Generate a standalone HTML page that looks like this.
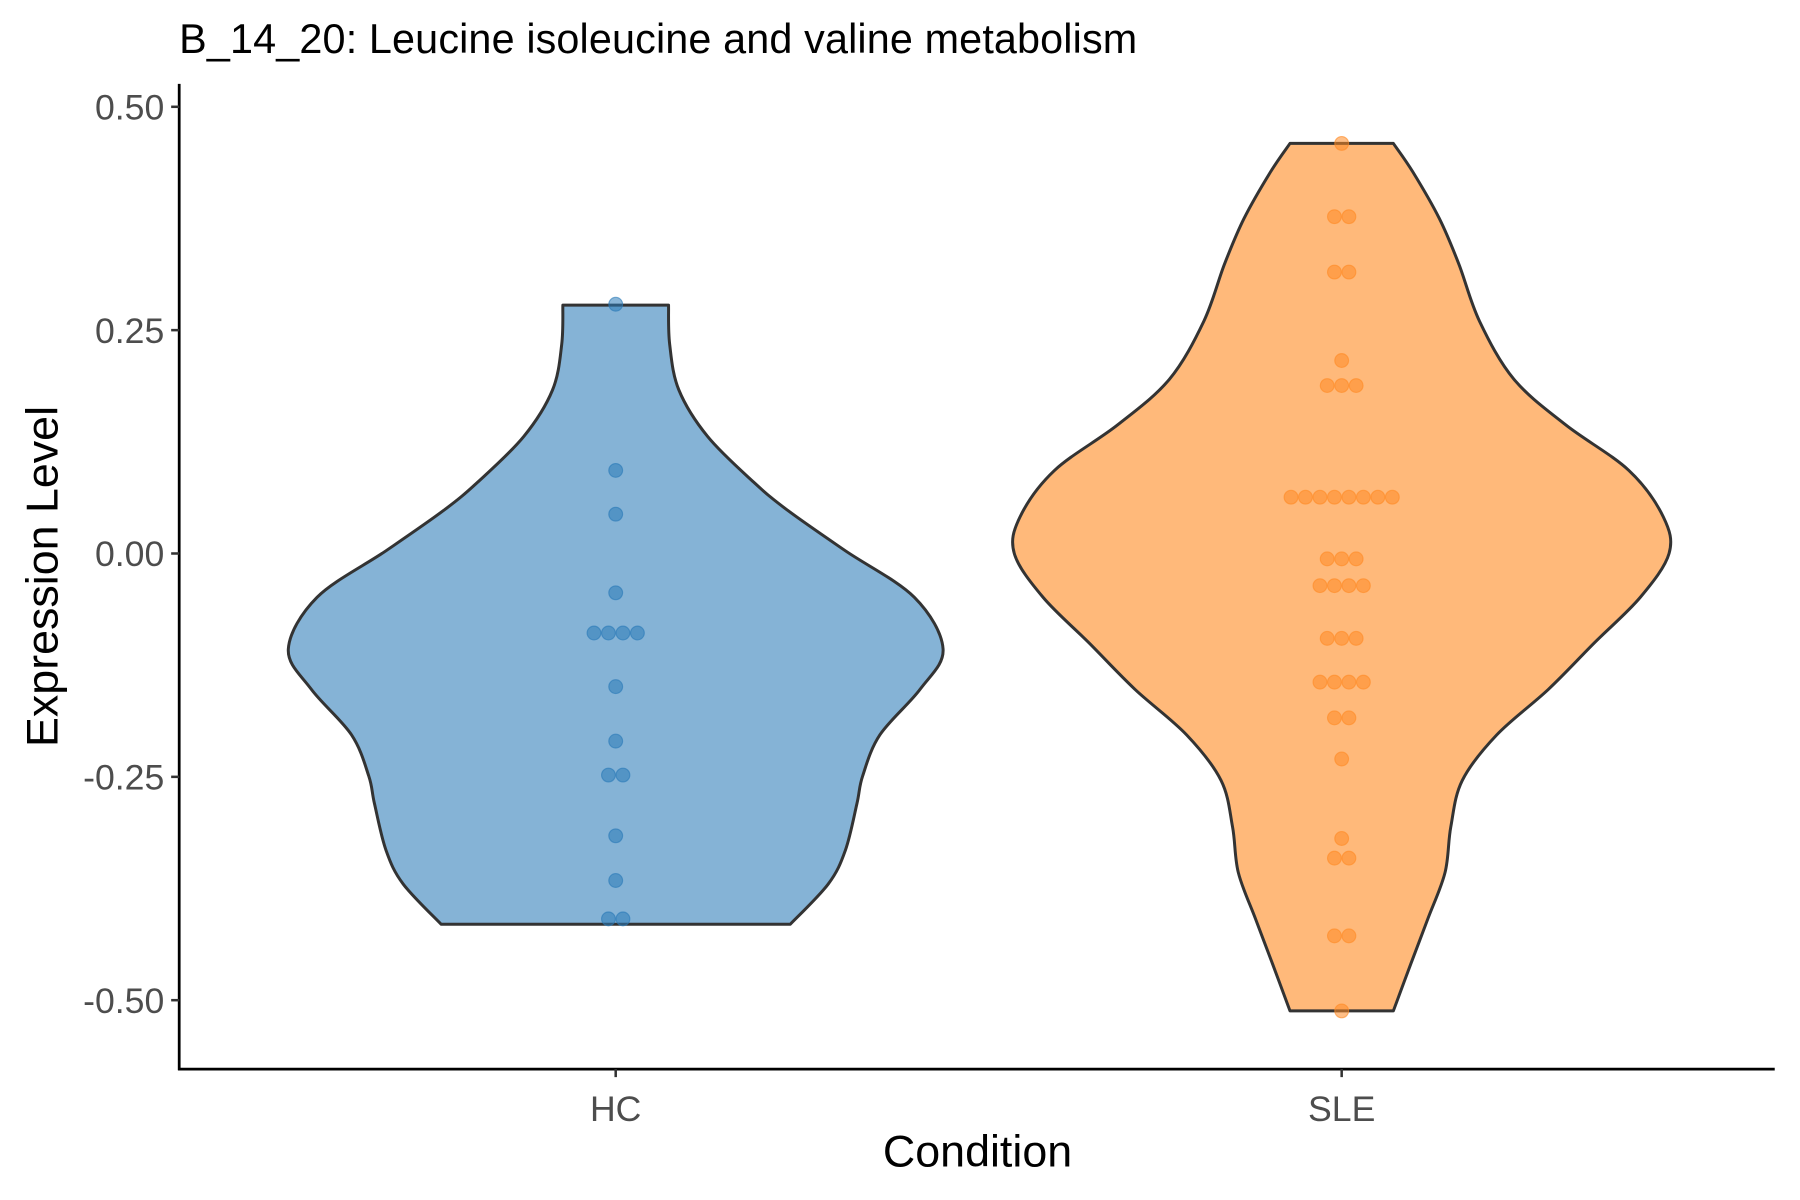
<!DOCTYPE html>
<html><head><meta charset="utf-8"><style>
html,body{margin:0;padding:0;background:#fff;}
svg{display:block;font-family:"Liberation Sans",Arial,sans-serif;}
</style></head><body>
<svg id="chart" width="1800" height="1200" viewBox="0 0 1567 1045" preserveAspectRatio="none">
<text x="156" y="46" font-size="36" fill="#000" textLength="834">B_14_20: Leucine isoleucine and valine metabolism</text>
<g id="plot"></g>
<line x1="156" y1="73" x2="156" y2="932" stroke="#000" stroke-width="2.4"/>
<line x1="155" y1="931" x2="1545" y2="931" stroke="#000" stroke-width="2.4"/>
<g id="yticks"></g>
<g id="xticks"></g>
<text x="851" y="1016" font-size="39" text-anchor="middle" fill="#000">Condition</text>
<text transform="translate(50,502) rotate(-90)" font-size="39" text-anchor="middle" fill="#000">Expression Level</text>
</svg>
<script>
const categories = ["HC", "SLE"];
const yTicks = [0.5, 0.25, 0, -0.25, -0.5];
const yTickLabels = ["0.50", "0.25", "0.00", "-0.25", "-0.50"];
// violin outline: values and relative half-widths (density)
const hcProfileY = [0.278,0.234,0.183,0.131,0.080,0.048,0.003,-0.049,-0.107,-0.152,-0.203,-0.249,-0.280,-0.332,-0.370,-0.415];
const hcDensity  = [46,47,55,80,120,150,200,260,285,265,230,215,210,200,185,152];
const sleProfileY = [0.459,0.427,0.375,0.324,0.260,0.195,0.144,0.093,0.041,0.000,-0.049,-0.100,-0.152,-0.203,-0.254,-0.306,-0.357,-0.409,-0.460,-0.512];
const sleDensity  = [45,62,85,102,120,150,195,250,280,285,260,220,180,135,105,95,90,75,60,45];
// dot values and stack counts
const hcDotValues = [0.279,0.093,0.044,-0.044,-0.089,-0.149,-0.210,-0.248,-0.316,-0.366,-0.409];
const hcDotCounts = [1,1,1,1,4,1,1,2,1,1,2];
const sleDotValues = [0.459,0.377,0.315,0.216,0.188,0.063,-0.006,-0.036,-0.095,-0.144,-0.184,-0.230,-0.319,-0.341,-0.428,-0.512];
const sleDotCounts = [1,2,2,1,3,8,3,4,3,4,2,1,1,2,2,1];

const NS="http://www.w3.org/2000/svg";
const yScale = v => 482 - v*778;
const xScale = i => [536,1168][i];
const dScale = d => d;
function mk(tag, attrs, parent){const e=document.createElementNS(NS,tag);for(const k in attrs)e.setAttribute(k,attrs[k]);parent.appendChild(e);return e;}
function smooth(pts){
  let d=`M${pts[0][0]},${pts[0][1]}`;
  for(let i=0;i<pts.length-1;i++){
    const p0=pts[Math.max(0,i-1)],p1=pts[i],p2=pts[i+1],p3=pts[Math.min(pts.length-1,i+2)];
    const c1=[p1[0]+(p2[0]-p0[0])/6,p1[1]+(p2[1]-p0[1])/6];
    const c2=[p2[0]-(p3[0]-p1[0])/6,p2[1]-(p3[1]-p1[1])/6];
    d+=` C${c1[0]},${c1[1]} ${c2[0]},${c2[1]} ${p2[0]},${p2[1]}`;
  }
  return d;
}
const plot=document.getElementById('plot');
function violin(i, ys, ds, fill, name){
  const cx=xScale(i);
  const right=ys.map((v,k)=>[cx+dScale(ds[k]),yScale(v)]);
  const left=ys.map((v,k)=>[cx-dScale(ds[k]),yScale(v)]).reverse();
  const d=smooth(right)+` L${left[0][0]},${left[0][1]} `+smooth(left).replace(/^M[^C]*/,'')+' Z';
  const p=mk('path',{d:d,fill:fill,stroke:'#333',"stroke-width":2.6,"stroke-linejoin":"round"},plot);
  
  
}
function dots(i, vals, counts, col, name){
  const cx=xScale(i), sp=12.6;
  vals.forEach((v,k)=>{
    const n=counts[k];
    for(let j=0;j<n;j++){
      const c=mk('circle',{cx:cx+(j-(n-1)/2)*sp,cy:yScale(v),r:6,fill:col,"fill-opacity":0.55,stroke:col,"stroke-opacity":0.6,"stroke-width":1},plot);
      
      
    }
  });
}
violin(0,hcProfileY,hcDensity,'#85b3d6','violin-hc');
violin(1,sleProfileY,sleDensity,'#ffb97a','violin-sle');
dots(0,hcDotValues,hcDotCounts,'#2a7ab8','dot-hc');
dots(1,sleDotValues,sleDotCounts,'#ff8a25','dot-sle');

const yt=document.getElementById('yticks');
yTicks.forEach((v,k)=>{
  const y=yScale(v);
  const l=mk('line',{x1:149,x2:156,y1:y,y2:y,stroke:'#333',"stroke-width":2.2},yt);
  
  
  const t=mk('text',{x:143,y:y+11,"font-size":31,"text-anchor":"end",fill:'#4d4d4d'},yt);
  t.textContent=yTickLabels[k];
  
  
});
const xt=document.getElementById('xticks');
categories.forEach((c,i)=>{
  const x=xScale(i);
  const l=mk('line',{x1:x,x2:x,y1:931,y2:938,stroke:'#333',"stroke-width":2.2},xt);
  
  
  const t=mk('text',{x:x,y:976,"font-size":31,"text-anchor":"middle",fill:'#4d4d4d'},xt);
  t.textContent=c;
  
  
});
</script>
</body></html>
